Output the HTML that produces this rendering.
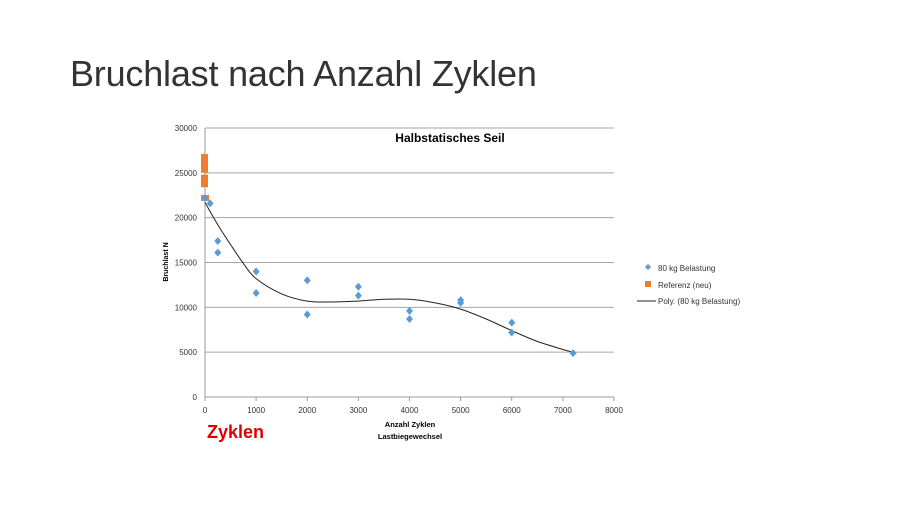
<!DOCTYPE html>
<html><head><meta charset="utf-8"><style>
body{margin:0;background:#fff;width:900px;height:506px;overflow:hidden;font-family:"Liberation Sans",sans-serif}
</style></head><body>
<div style="position:absolute;left:70px;top:53px;font-size:36px;font-weight:300;color:#333;letter-spacing:-0.2px">Bruchlast nach Anzahl Zyklen</div>
<svg id="c" width="900" height="506" style="position:absolute;left:0;top:0" font-family="Liberation Sans, sans-serif"></svg>
<script>
const xTicks=[0,1000,2000,3000,4000,5000,6000,7000,8000];
const yTicks=[0,5000,10000,15000,20000,25000,30000];
const seriesX=[0,100,250,250,1000,1000,2000,2000,3000,3000,4000,4000,5000,5000,6000,6000,7200];
const seriesY=[22200,21600,17400,16100,14000,11600,13000,9200,12300,11300,9600,8700,10800,10500,8300,7200,4900];
const refX=[0];
const refY=[22200];
const refBarLow=[25000,23400];
const refBarHigh=[27100,24800];
const trendX=[0,250,500,750,1000,1500,2000,2500,3000,3500,4000,4500,5000,5500,6000,6500,7000,7200];
const trendY=[21700,19200,17000,14900,13200,11500,10700,10600,10700,10900,10900,10500,9800,8700,7400,6200,5300,5000];
const NS="http://www.w3.org/2000/svg",svg=document.getElementById('c');
const X0=205,X1=614,Y0=397,Y1=128;
const sx=v=>X0+(v/8000)*(X1-X0), sy=v=>Y0-(v/30000)*(Y0-Y1);
function mk(t,a,p){const e=document.createElementNS(NS,t);for(const k in a)e.setAttribute(k,a[k]);(p||svg).appendChild(e);return e;}
yTicks.forEach(v=>{
 const l=mk('line',{x1:X0,x2:X1,y1:sy(v),y2:sy(v),stroke:v===0?'#999':'#a6a6a6','stroke-width':1});
 
 
 const t=mk('text',{x:X0-8,y:sy(v)+3,'text-anchor':'end','font-size':8,fill:'#333'});t.textContent=v;
 
 
});
const ya=mk('line',{x1:X0,x2:X0,y1:Y1,y2:Y0,stroke:'#999'});


xTicks.forEach(v=>{
 mk('line',{x1:sx(v),x2:sx(v),y1:Y0,y2:Y0+4,stroke:'#999'});
 const t=mk('text',{x:sx(v),y:Y0+16,'text-anchor':'middle','font-size':8,fill:'#333'});t.textContent=v;
 
 
});
const P=trendX.map((x,i)=>[sx(x),sy(trendY[i])]);
let d='M'+P[0][0].toFixed(1)+' '+P[0][1].toFixed(1);
for(let i=0;i<P.length-1;i++){
 const p0=P[Math.max(0,i-1)],p1=P[i],p2=P[i+1],p3=P[Math.min(P.length-1,i+2)];
 const c1=[p1[0]+(p2[0]-p0[0])/6,p1[1]+(p2[1]-p0[1])/6],c2=[p2[0]-(p3[0]-p1[0])/6,p2[1]-(p3[1]-p1[1])/6];
 d+=`C${c1[0].toFixed(1)} ${c1[1].toFixed(1)} ${c2[0].toFixed(1)} ${c2[1].toFixed(1)} ${p2[0].toFixed(1)} ${p2[1].toFixed(1)}`;
}
const tl=mk('path',{d:d,fill:'none',stroke:'#222','stroke-width':1});


refX.forEach((x,i)=>{
 const r=mk('rect',{x:sx(x)-4,y:sy(refY[i])-3,width:8,height:6,fill:'#ed7d31'});
 
 
});
refBarLow.forEach((lo,i)=>{
 const r=mk('rect',{x:sx(0)-4,y:sy(refBarHigh[i]),width:7,height:sy(lo)-sy(refBarHigh[i]),fill:'#ed7d31'});
 
 
});
seriesX.forEach((x,i)=>{
 const cx=sx(x),cy=sy(seriesY[i]);
 const p=mk('polygon',{points:`${cx},${cy-4} ${cx+3.5},${cy} ${cx},${cy+4} ${cx-3.5},${cy}`,fill:'#5b9bd5'});
 
 
});
function txt(s,a,name){const t=mk('text',a);t.textContent=s;return t;}
txt('Halbstatisches Seil',{x:450,y:142,'text-anchor':'middle','font-size':12,'font-weight':'bold',fill:'#000'},'chart-title');
txt('Bruchlast  N',{x:0,y:0,transform:'translate(168,262) rotate(-90)','text-anchor':'middle','font-size':7,'font-weight':'bold',fill:'#000'},'y-axis-title');
txt('Anzahl  Zyklen',{x:410,y:427,'text-anchor':'middle','font-size':7.5,'font-weight':'bold',fill:'#000'},'x-axis-title');
txt('Lastbiegewechsel',{x:410,y:439,'text-anchor':'middle','font-size':7.5,'font-weight':'bold',fill:'#000'},'x-axis-subtitle');
txt('Zyklen',{x:207,y:438,'font-size':18,'font-weight':'bold',fill:'#e00000'},'zyklen-annotation');
mk('polygon',{points:'648,264 651,267 648,270 645,267',fill:'#5b9bd5'});
txt('80 kg Belastung',{x:658,y:271,'font-size':8,fill:'#333'},'legend-entry-80kg');
mk('rect',{x:645,y:281,width:6,height:6,fill:'#ed7d31'});
txt('Referenz (neu)',{x:658,y:288,'font-size':8,fill:'#333'},'legend-entry-referenz');
mk('line',{x1:637,x2:656,y1:301,y2:301,stroke:'#222'});
txt('Poly. (80 kg Belastung)',{x:658,y:304,'font-size':8,fill:'#333'},'legend-entry-poly');
</script>
</body></html>
